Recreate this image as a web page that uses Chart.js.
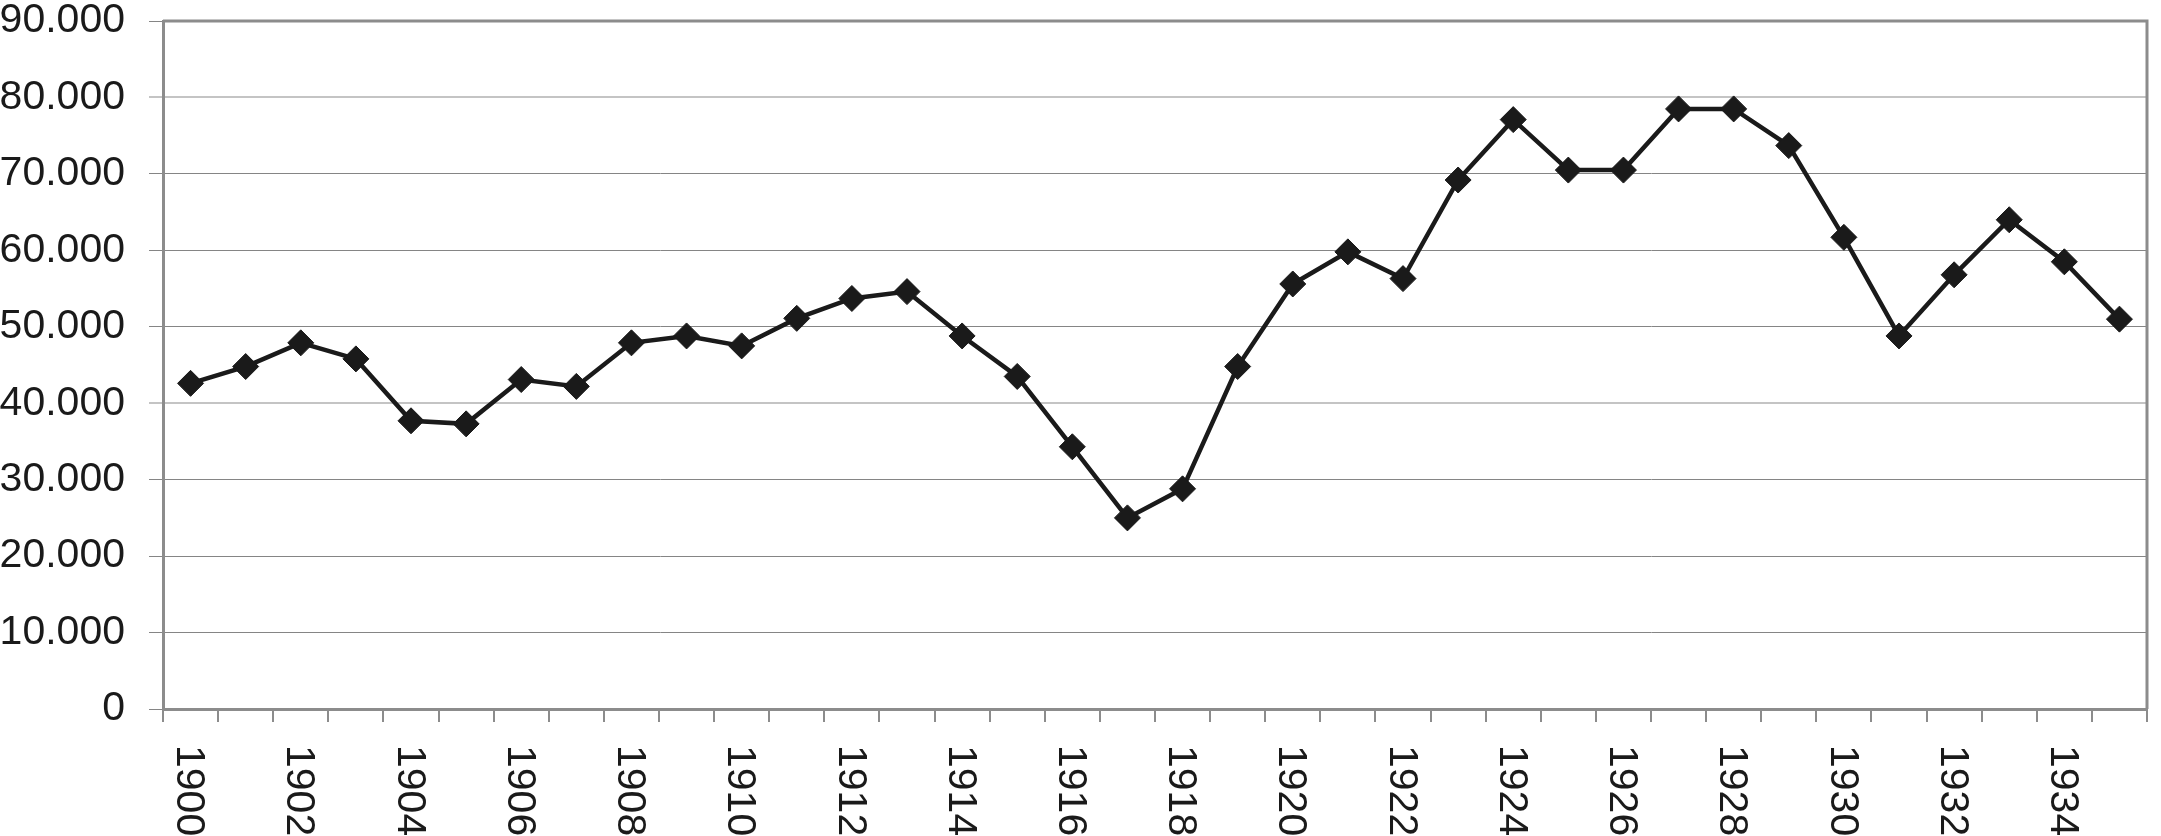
<!DOCTYPE html>
<html>
<head>
<meta charset="utf-8">
<script src="https://cdn.jsdelivr.net/npm/chart.js@4.4.1/dist/chart.umd.min.js"></script>
<style>
  html, body { margin: 0; padding: 0; background: #fff; }
  #wrap { width: 2161px; height: 836px; }
</style>
</head>
<body>
<div id="wrap"><canvas id="chart" width="2161" height="836"></canvas></div>
<script>
const years = [
  "1900", "1901", "1902", "1903", "1904", "1905", "1906", "1907", "1908", "1909",
  "1910", "1911", "1912", "1913", "1914", "1915", "1916", "1917", "1918", "1919",
  "1920", "1921", "1922", "1923", "1924", "1925", "1926", "1927", "1928", "1929",
  "1930", "1931", "1932", "1933", "1934", "1935"
];
const values = [
  42600, 44800, 47900, 45800, 37700, 37300, 43100, 42200, 47900, 48800,
  47500, 51100, 53700, 54600, 48800, 43500, 34300, 25000, 28800, 44800,
  55600, 59800, 56300, 69200, 77100, 70500, 70500, 78500, 78500, 73700,
  61700, 48800, 56800, 64000, 58500, 51000
];
const yTicks = [0, 10000, 20000, 30000, 40000, 50000, 60000, 70000, 80000, 90000];
const xLabels = [
  "1900", "1902", "1904", "1906", "1908", "1910", "1912", "1914", "1916",
  "1918", "1920", "1922", "1924", "1926", "1928", "1930", "1932", "1934"
];

const FONT = '"Liberation Sans", Arial, Helvetica, sans-serif';
const AXIS = "#8c8c8c";

// years are written top-to-bottom (rotated clockwise), chart.js only rotates the other way
const xLabelPlugin = {
  id: "xLabels",
  afterDraw(chart) {
    const { ctx, chartArea, scales: { x } } = chart;
    ctx.save();
    ctx.font = "41px " + FONT;
    ctx.fillStyle = "#1a1a1a";
    ctx.textAlign = "left";
    ctx.textBaseline = "middle";
    xLabels.forEach((lbl) => {
      const px = x.getPixelForValue(years.indexOf(lbl));
      ctx.save();
      ctx.translate(px - 2, x.top + 36);
      ctx.rotate(Math.PI / 2);
      ctx.fillText(lbl, 0, 0);
      ctx.restore();
    });
    // top and right frame
    ctx.strokeStyle = AXIS;
    ctx.lineWidth = 3;
    ctx.beginPath();
    ctx.moveTo(chartArea.left, chartArea.top);
    ctx.lineTo(chartArea.right, chartArea.top);
    ctx.lineTo(chartArea.right, chartArea.bottom);
    ctx.stroke();
    ctx.restore();
  }
};

new Chart(document.getElementById("chart"), {
  type: "line",
  data: {
    labels: years,
    datasets: [{
      data: values,
      borderColor: "#1a1a1a",
      borderWidth: 4.5,
      backgroundColor: "#1a1a1a",
      pointStyle: "rectRot",
      pointRadius: 13,
      pointBorderWidth: 1,
      pointBorderColor: "#1a1a1a",
      pointBackgroundColor: "#1a1a1a",
      tension: 0,
      clip: false
    }]
  },
  options: {
    responsive: false,
    animation: false,
    devicePixelRatio: 1,
    layout: { padding: { top: 21, right: 3, left: 0, bottom: 0 } },
    plugins: {
      legend: { display: false },
      tooltip: { enabled: false }
    },
    scales: {
      x: {
        offset: true,
        grid: {
          offset: true,
          drawOnChartArea: false,
          drawTicks: true,
          tickLength: 13,
          color: AXIS,
          lineWidth: 2
        },
        border: { color: AXIS, width: 3 },
        ticks: { display: false },
        afterFit(scale) { scale.height = 127; }
      },
      y: {
        min: 0,
        max: 90000,
        afterBuildTicks(scale) {
          scale.ticks = yTicks.map((v) => ({ value: v }));
        },
        grid: {
          color: (c) => (c.tick && (c.tick.value === 80000 || c.tick.value === 40000)) ? "#c4c4c4" : "#858585",
          lineWidth: (c) => (c.tick && (c.tick.value === 80000 || c.tick.value === 40000)) ? 2 : 1,
          tickLength: 14
        },
        border: { color: AXIS, width: 3 },
        ticks: {
          padding: 24,
          color: "#1a1a1a",
          font: { family: FONT, size: 41, lineHeight: 1 },
          callback: (v) => v === 0 ? "0" : (v / 1000) + ".000"
        },
        afterFit(scale) {
          scale.width = 163;
          scale.paddingTop = 0;
          scale.paddingBottom = 0;
        }
      }
    }
  },
  plugins: [xLabelPlugin]
});
</script>
</body>
</html>
